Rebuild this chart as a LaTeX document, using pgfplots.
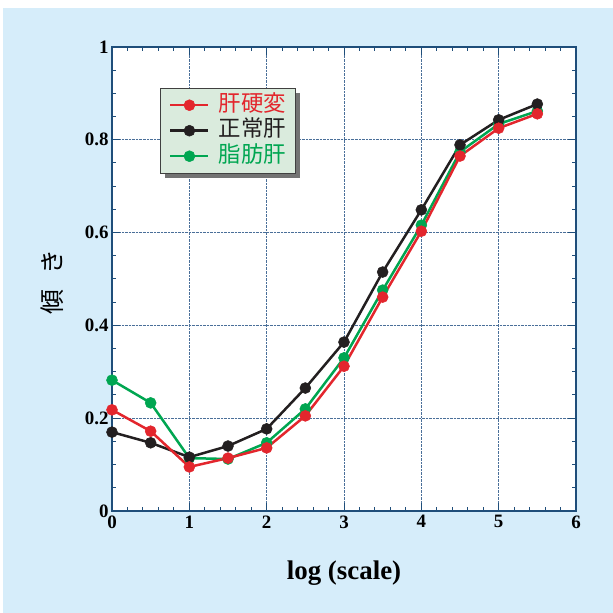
\documentclass[border=0pt]{standalone}
\usepackage{fontspec}
\setmainfont{Liberation Serif}
\newfontfamily\cjk{Noto Sans CJK JP}
\usepackage{pgfplots}
\pgfplotsset{compat=1.18}
\usetikzlibrary{shadows}
\makeatletter
\tikzset{nopre/.code={\let\tikz@preactions\pgfutil@empty}}
\makeatother
\definecolor{bg}{HTML}{D6EDFA}
\definecolor{navy}{HTML}{1F4E7A}
\definecolor{gridc}{HTML}{4A6F99}
\definecolor{myred}{HTML}{E3262D}
\definecolor{myblack}{HTML}{231F20}
\definecolor{mygreen}{HTML}{00A651}
\definecolor{legfill}{HTML}{DAEBDD}
\begin{document}
\begin{tikzpicture}
\useasboundingbox (0,0) rectangle (613bp,613bp);
\fill[bg] (3bp,0) rectangle (613bp,605bp);
\begin{axis}[
  at={(112bp,102bp)}, anchor=south west,
  width=464bp, height=464bp, scale only axis,
  xmin=0, xmax=6, ymin=0, ymax=1,
  xtick={0,1,2,3,4,5,6}, ytick={0,0.2,0.4,0.6,0.8,1},
  minor x tick num=4, minor y tick num=3,
  tick align=inside, xtick pos=both, ytick pos=both,
  major tick length=8bp, minor tick length=4bp,
  every tick/.style={navy, line width=1bp},
  axis line style={navy, line width=1.5bp},
  axis background/.style={fill=white},
  grid=major,
  major grid style={densely dotted, gridc, line width=0.9bp},
  /pgf/number format/assume math mode=true,
  tick label style={font=\bfseries\fontsize{19}{19}\selectfont, black},
  xticklabel style={yshift=-1bp},
  yticklabel style={xshift=0bp},
  xlabel={\bfseries\fontsize{27}{27}\selectfont log (scale)},
  xlabel style={at={(axis description cs:0.5,-0.134)}, anchor=center},
  ylabel={\cjk\fontsize{25}{25}\selectfont 傾\hspace{0.6em}き},
  ylabel style={at={(axis description cs:-0.129,0.494)}, anchor=center},
  reverse legend,
  legend style={at={(0.103,0.912)}, anchor=north west,
    fill=legfill, draw=black!75, line width=0.8bp,
    drop shadow={shadow xshift=5bp, shadow yshift=-5bp, fill=black!55, opacity=1},
    font=\cjk\fontsize{22.5}{22.5}\selectfont, row sep=3.5bp, inner xsep=9bp, inner ysep=6bp,
    nodes={inner sep=0pt, text height=17bp, text depth=5bp},
    /tikz/every odd column/.append style={column sep=9bp}},
  legend cell align=left,
  legend image code/.code={\draw[nopre, line width=2.5bp, mark repeat=2, mark phase=2, mark size=5.5bp] plot coordinates {(0bp,0bp)(19bp,0bp)(38bp,0bp)};},
  every axis plot/.append style={line width=2.5bp, mark=*, mark size=5.5bp},
]
\addplot[mygreen, mark options={fill=mygreen, draw=mygreen, line width=0.5bp}] coordinates {
(0,0.282)(0.5,0.233)(1,0.114)(1.5,0.112)(2,0.147)(2.5,0.220)(3,0.330)(3.5,0.476)(4,0.616)(4.5,0.774)(5,0.834)(5.5,0.862)};
\addlegendentry{\textcolor{mygreen}{脂肪肝}}
\addplot[myblack, mark options={fill=myblack, draw=myblack, line width=0.5bp}] coordinates {
(0,0.170)(0.5,0.147)(1,0.116)(1.5,0.140)(2,0.177)(2.5,0.265)(3,0.364)(3.5,0.515)(4,0.649)(4.5,0.789)(5,0.843)(5.5,0.877)};
\addlegendentry{\textcolor{myblack}{正常肝}}
\addplot[myred, mark options={fill=myred, draw=myred, line width=0.5bp}] coordinates {
(0,0.218)(0.5,0.172)(1,0.095)(1.5,0.114)(2,0.136)(2.5,0.205)(3,0.312)(3.5,0.461)(4,0.603)(4.5,0.765)(5,0.825)(5.5,0.856)};
\addlegendentry{\textcolor{myred}{肝硬変}}
\end{axis}
\end{tikzpicture}
\end{document}
